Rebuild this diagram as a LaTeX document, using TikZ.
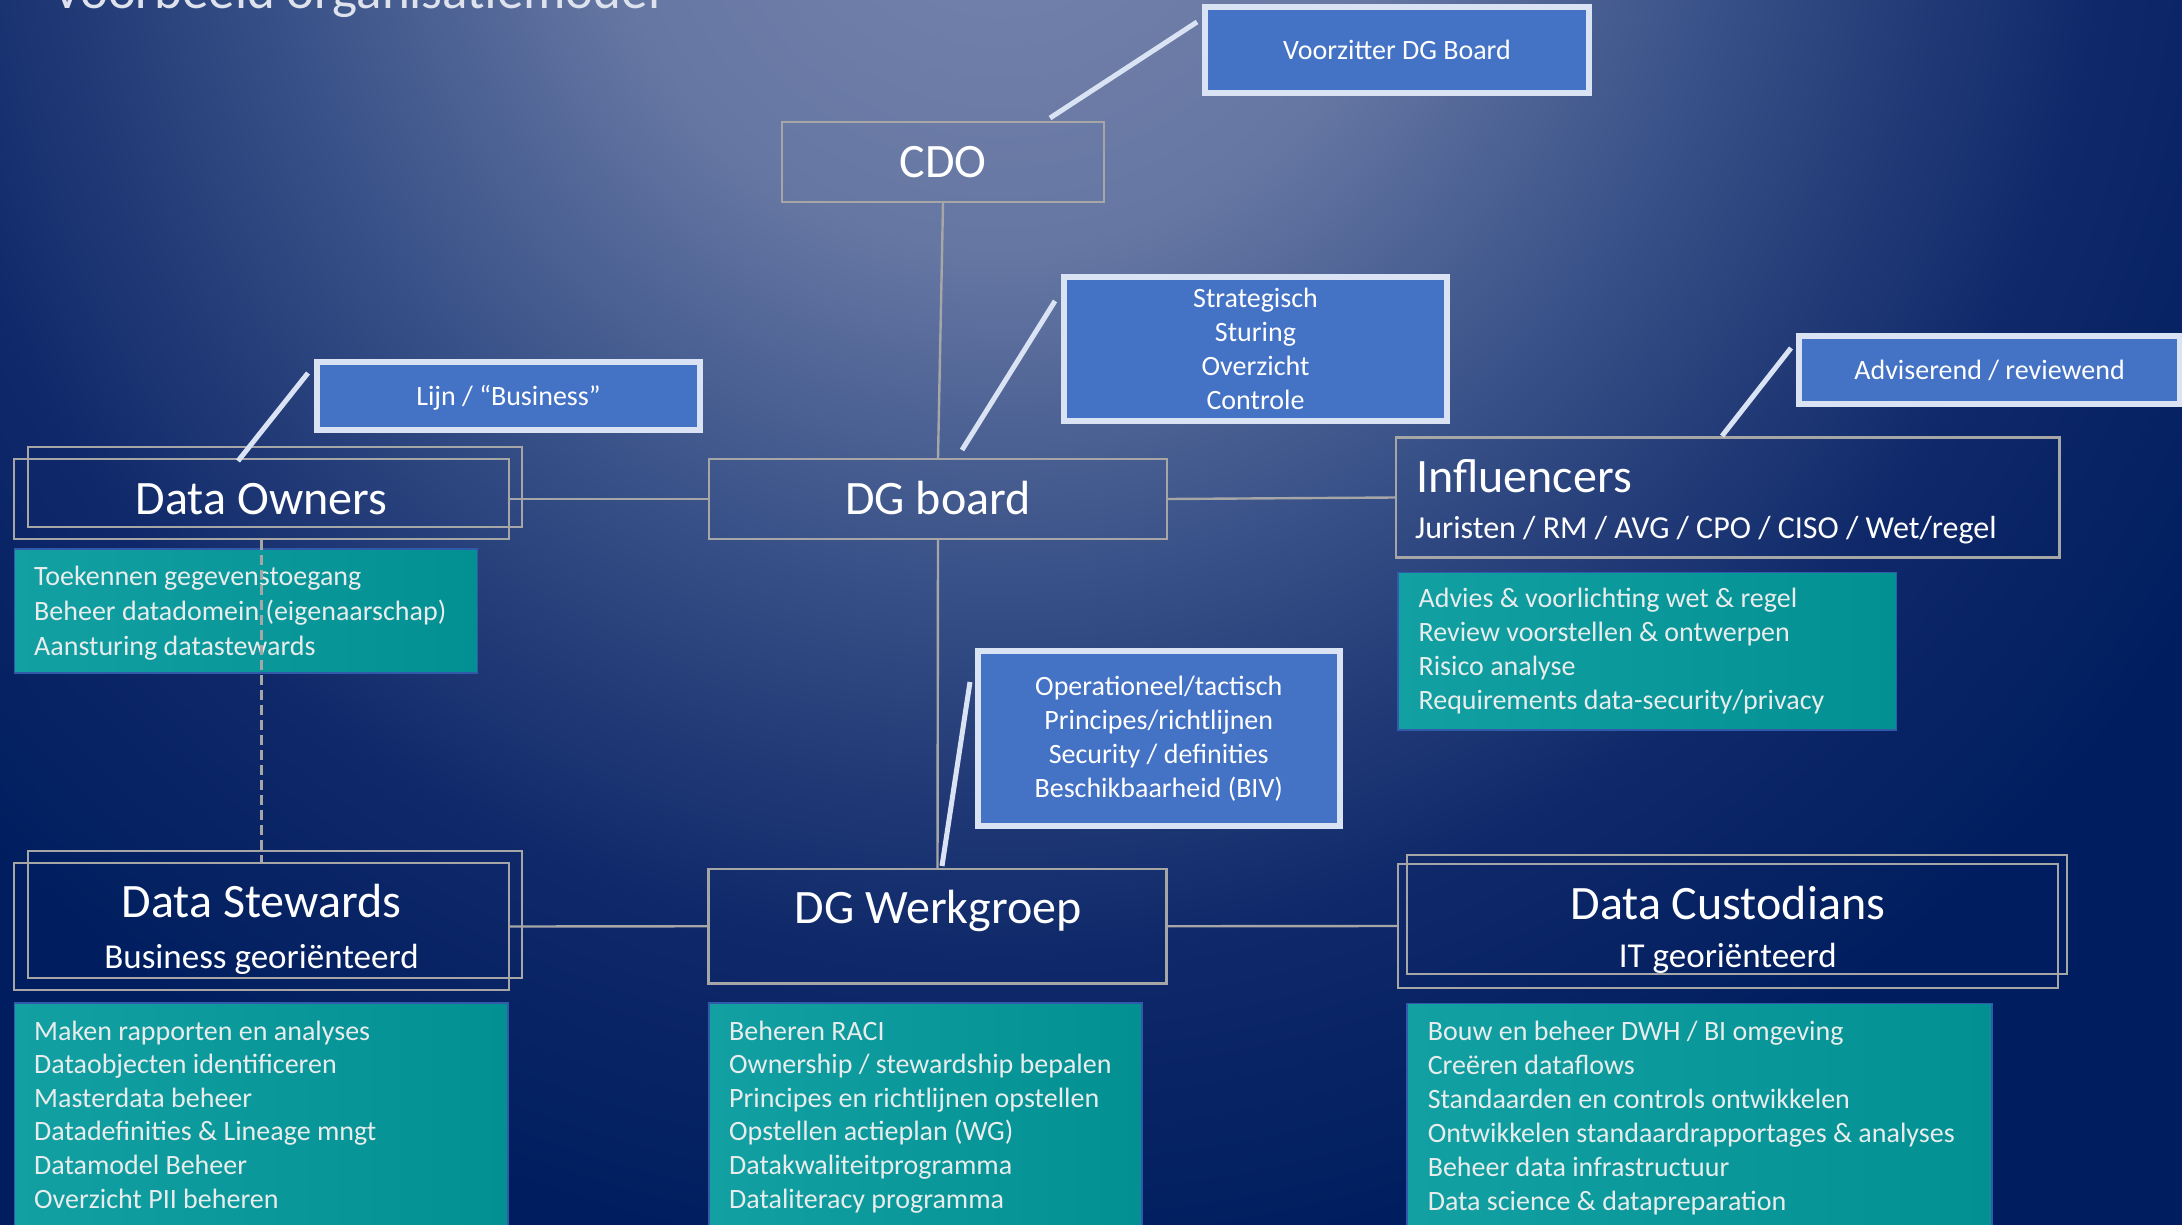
\documentclass[tikz,border=0pt]{standalone}
\usepackage{fontspec}
\setmainfont{Carlito}
\usetikzlibrary{calc}
\definecolor{bgdark}{RGB}{0,30,95}
\definecolor{lblue}{RGB}{68,114,196}
\definecolor{lborder}{RGB}{218,227,243}
\definecolor{grayline}{RGB}{166,166,166}
\definecolor{tealA}{RGB}{18,160,162}
\definecolor{tealB}{RGB}{2,144,146}
\definecolor{tealedge}{RGB}{50,90,170}
\definecolor{listtext}{RGB}{232,236,236}
\definecolor{titletext}{RGB}{222,226,236}
\pgfdeclareradialshading{bgshade}{\pgfpoint{0bp}{0bp}}{rgb(0bp)=(0.463,0.518,0.675); rgb(7bp)=(0.400,0.466,0.640); rgb(13bp)=(0.216,0.314,0.529); rgb(19.5bp)=(0.059,0.157,0.412); rgb(25bp)=(0,0.118,0.373); rgb(50bp)=(0,0.118,0.373)}
\newcommand{\fttl}{\fontsize{48}{58}\selectfont}
\newcommand{\ftsub}{\fontsize{35}{42}\selectfont}
\newcommand{\ftjur}{\fontsize{32}{38}\selectfont}
\newcommand{\ftlab}{\fontsize{28}{34}\selectfont}
\begin{document}
\begin{tikzpicture}[x=1pt,y=-1pt,
  gbox/.style={draw=grayline, line width=2.2pt, inner sep=0pt},
  lbox/.style={fill=lblue, draw=lborder, line width=6pt, text=white, font=\ftlab, inner sep=0pt},
  tbox/.style={draw=tealedge, line width=1.5pt, left color=tealA, right color=tealB, inner sep=0pt},
  gline/.style={draw=grayline, line width=2.4pt},
  lline/.style={draw=lborder, line width=5pt},
  dline/.style={draw=grayline, line width=2.4pt, dash pattern=on 10pt off 5pt},
  ttl/.style={font=\fttl, text=white, inner sep=0pt},
  sub/.style={font=\ftsub, text=white, inner sep=0pt},
  listtxt/.style={align=left, text=listtext, inner sep=0pt},
  captl/.style={text height=31pt, text depth=0pt},
  capsm/.style={text height=18pt, text depth=0pt}]
\useasboundingbox (0,0) rectangle (2182,1225);
% background
\fill[bgdark] (0,0) rectangle (2182,1225);
\begin{scope}
\clip (0,0) rectangle (2182,1225);
\shade[shading=bgshade] (-420,-1570) rectangle (2420,1270);
\end{scope}
% title
\node[anchor=base west, font=\fontsize{53}{60}\selectfont, text=titletext, inner sep=0pt] (title) at (52,8.3) {Voorbeeld organisatiemodel};

% main boxes
\node[gbox, ttl, captl, minimum width=322pt, minimum height=80pt] (cdo) at (943,162) {CDO};
\node[gbox, ttl, captl, minimum width=458pt, minimum height=80pt] (dgb) at (938,499) {DG board};
\node[gbox, minimum width=494pt, minimum height=80pt] (doA) at (275,487) {};
\node[gbox, ttl, captl, minimum width=495pt, minimum height=80pt] (doB) at (261.5,499) {Data Owners};
\node[gbox, minimum width=494pt, minimum height=127pt] (dsA) at (275,914.5) {};
\node[gbox, minimum width=495pt, minimum height=127pt] (dsB) at (261.5,926.5) {};
\node[gbox, minimum width=458pt, minimum height=114.5pt] (dgw) at (937.5,926.25) {};
\node[gbox, minimum width=663.5pt, minimum height=120pt] (infl) at (1727.75,497.5) {};
\node[gbox, minimum width=660pt, minimum height=119pt] (dcA) at (1737,914.5) {};
\node[gbox, minimum width=659.7pt, minimum height=123.4pt] (dcB) at (1727.85,926) {};

% texts in main boxes
\node[ttl, anchor=base] (dsT) at (261.5,917) {Data Stewards};
\node[sub, anchor=base] (dsS) at (261.5,968) {Business georiënteerd};
\node[ttl, anchor=base] (dgwT) at (938,923.3) {DG Werkgroep};
\node[ttl, anchor=base west] (inflT) at (1416,492.7) {Influencers};
\node[font=\ftjur, text=white, inner sep=0pt, anchor=base west] (inflS) at (1415,538.3) {Juristen / RM / AVG / CPO / CISO / Wet/regel};
\node[ttl, anchor=base] (dcT) at (1727.8,919.3) {Data Custodians};
\node[sub, anchor=base] (dcS) at (1727.8,967.7) {IT georiënteerd};

% blue label boxes
\node[lbox, capsm, minimum width=384pt, minimum height=86pt] (vz) at (1397,50.5) {Voorzitter DG Board};
\node[lbox, align=center, minimum width=383pt, minimum height=144pt] (strat) at (1255.5,349) {Strategisch\\Sturing\\Overzicht\\Controle};
\node[lbox, capsm, minimum width=383pt, minimum height=68pt] (lijn) at (508.5,396) {Lijn / “Business”};
\node[lbox, capsm, minimum width=381pt, minimum height=68pt] (adv) at (1989.5,370.3) {Adviserend / reviewend};
\node[lbox, align=center, minimum width=361.5pt, minimum height=175.5pt] (oper) at (1158.75,738.25) {Operationeel/tactisch\\Principes/richtlijnen\\Security / definities\\Beschikbaarheid (BIV)};

% connector coordinates for label lines
\coordinate (vzA) at (1197,22);
\coordinate (vzB) at (1050,118);
\coordinate (stA) at (1055,301);
\coordinate (stB) at (962,450);
\coordinate (ljA) at (308,373);
\coordinate (ljB) at (238,461);
\coordinate (adA) at (1791,348);
\coordinate (adB) at (1722,436);
\coordinate (opA) at (970,682);
\coordinate (opB) at (942,866);

% gray connectors
\draw[gline] (cdo.south) -- (dgb.north);
\draw[gline] (doB.east) -- (dgb.west);
\draw[gline] (dgb.east) -- (infl.west);
\draw[gline] (dgb.south) -- (dgw.north);
\draw[gline] (dsB.east) -- (dgw.west);
\draw[gline] (dgw.east) -- (dcB.west);

% light label connectors
\draw[lline] (vzA) -- (vzB);
\draw[lline] (stA) -- (stB);
\draw[lline] (ljA) -- (ljB);
\draw[lline] (adA) -- (adB);
\draw[lline] (opA) -- (opB);

% teal lists (anchor = baseline of the last line)
\node[tbox, minimum width=463pt, minimum height=124pt] (doL) at (246,611) {};
\node[listtxt, anchor=base west, font=\fontsize{28}{35}\selectfont] (doLT) at (34,655) {Toekennen gegevenstoegang\\Beheer datadomein (eigenaarschap)\\Aansturing datastewards};

\node[tbox, minimum width=498.6pt, minimum height=157.7pt] (inflL) at (1647.3,651.15) {};
\node[listtxt, anchor=base west, font=\fontsize{28}{34}\selectfont] (inflLT) at (1418.4,709) {Advies \& voorlichting wet \& regel\\Review voorstellen \& ontwerpen\\Risico analyse\\Requirements data-security/privacy};

\node[tbox, minimum width=493.5pt, minimum height=237pt] (dsL) at (261.25,1121.5) {};
\node[listtxt, anchor=base west, font=\fontsize{28}{33.6}\selectfont] (dsLT) at (34,1208) {Maken rapporten en analyses\\Dataobjecten identificeren\\Masterdata beheer\\Datadefinities \& Lineage mngt\\Datamodel Beheer\\Overzicht PII beheren};

\node[tbox, minimum width=433pt, minimum height=237pt] (dgwL) at (925.5,1121.5) {};
\node[listtxt, anchor=base west, font=\fontsize{28}{33.6}\selectfont] (dgwLT) at (729,1208) {Beheren RACI\\Ownership / stewardship bepalen\\Principes en richtlijnen opstellen\\Opstellen actieplan (WG)\\Datakwaliteitprogramma\\Dataliteracy programma};

\node[tbox, minimum width=585pt, minimum height=236.7pt] (dcL) at (1699.5,1121.65) {};
\node[listtxt, anchor=base west, font=\fontsize{28}{34}\selectfont] (dcLT) at (1427.6,1210) {Bouw en beheer DWH / BI omgeving\\Creëren dataflows\\Standaarden en controls ontwikkelen\\Ontwikkelen standaardrapportages \& analyses\\Beheer data infrastructuur\\Data science \& datapreparation};

% dashed link
\draw[dline] (doB.south) -- (dsB.north);
\end{tikzpicture}
\end{document}
